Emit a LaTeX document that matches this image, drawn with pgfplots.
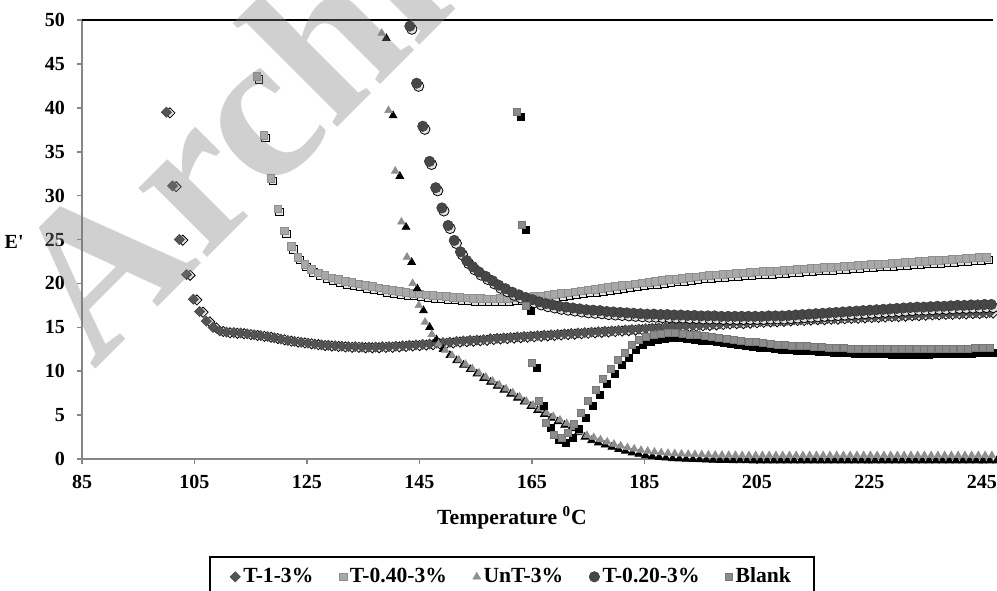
\documentclass[border=0pt]{standalone}
\usepackage{fontspec}
\setmainfont{Liberation Serif}
\usepackage{pgfplots}
\pgfplotsset{compat=1.18}
\usepackage{pgfplotstable}
\definecolor{axgray}{HTML}{868686}
\definecolor{cTone}{HTML}{555555}
\definecolor{cTfour}{HTML}{A8A8A8}
\definecolor{cUnT}{HTML}{8E8E8E}
\definecolor{cTtwo}{HTML}{474747}
\definecolor{cBlank}{HTML}{8C8C8C}
\definecolor{shd}{HTML}{E2E2E2}

\pgfplotstableread{
x y
100.0 39.5
101.1 31.1
102.3 25.0
103.6 21.0
104.8 18.2
105.9 16.8
107.1 15.7
108.3 15.0
109.5 14.6
110.7 14.45
112.0 14.4
113.2 14.35
114.4 14.25
115.6 14.15
116.8 14.05
118.0 13.95
119.2 13.8
120.4 13.65
121.6 13.5
122.8 13.4
124.0 13.3
125.2 13.2
126.4 13.1
127.6 13.0
128.8 12.95
130.0 12.9
131.2 12.85
132.4 12.8
133.6 12.8
134.8 12.75
136.0 12.75
137.2 12.75
138.4 12.8
139.6 12.8
140.8 12.85
142.0 12.9
143.2 12.95
144.4 13.0
145.6 13.05
146.8 13.1
148.0 13.2
149.2 13.25
150.4 13.3
151.6 13.4
152.8 13.45
154.0 13.5
155.2 13.55
156.4 13.6
157.6 13.7
158.8 13.75
160.0 13.8
161.2 13.85
162.4 13.9
163.6 13.95
164.8 14.0
166.0 14.05
167.2 14.1
168.4 14.15
169.6 14.2
170.8 14.25
172.0 14.3
173.2 14.35
174.4 14.4
175.6 14.45
176.8 14.5
178.0 14.55
179.2 14.6
180.4 14.65
181.6 14.7
182.8 14.75
184.0 14.8
185.2 14.85
186.4 14.9
187.6 14.95
188.8 15.0
190.0 15.05
191.2 15.1
192.4 15.15
193.6 15.2
194.8 15.25
196.0 15.3
197.2 15.35
198.4 15.4
199.6 15.45
200.8 15.5
202.0 15.5
203.2 15.55
204.4 15.6
205.6 15.65
206.8 15.7
208.0 15.7
209.2 15.75
210.4 15.8
211.6 15.85
212.8 15.85
214.0 15.9
215.2 15.95
216.4 15.95
217.6 16.0
218.8 16.0
220.0 16.05
221.2 16.1
222.4 16.1
223.6 16.15
224.8 16.2
226.0 16.2
227.2 16.25
228.4 16.3
229.6 16.3
230.8 16.35
232.0 16.4
233.2 16.4
234.4 16.45
235.6 16.5
236.8 16.5
238.0 16.55
239.2 16.55
240.4 16.6
241.6 16.6
242.8 16.65
244.0 16.65
245.2 16.7
246.4 16.7
}\Tone

\pgfplotstableread{
x y
116.1 43.6
117.3 36.9
118.6 32.0
119.8 28.5
121.0 26.0
122.2 24.2
123.4 23.0
124.6 22.2
125.8 21.6
127.0 21.2
128.2 20.9
129.4 20.65
130.6 20.45
131.8 20.25
133.0 20.1
134.2 19.95
135.4 19.8
136.6 19.65
137.8 19.5
139.0 19.35
140.2 19.2
141.4 19.1
142.6 19.0
143.8 18.9
145.0 18.8
146.2 18.7
147.4 18.65
148.6 18.6
149.8 18.5
151.0 18.45
152.2 18.4
153.4 18.35
154.6 18.3
155.8 18.3
157.0 18.25
158.2 18.25
159.4 18.3
160.6 18.3
161.8 18.35
163.0 18.4
164.2 18.45
165.4 18.5
166.6 18.6
167.8 18.65
169.0 18.75
170.2 18.85
171.4 18.95
172.6 19.05
173.8 19.15
175.0 19.25
176.2 19.35
177.4 19.45
178.6 19.55
179.8 19.65
181.0 19.75
182.2 19.85
183.4 19.95
184.6 20.05
185.8 20.15
187.0 20.25
188.2 20.35
189.4 20.45
190.6 20.5
191.8 20.6
193.0 20.7
194.2 20.75
195.4 20.85
196.6 20.9
197.8 21.0
199.0 21.05
200.2 21.1
201.4 21.15
202.6 21.2
203.8 21.25
205.0 21.3
206.2 21.35
207.4 21.4
208.6 21.45
209.8 21.5
211.0 21.55
212.2 21.6
213.4 21.65
214.6 21.7
215.8 21.75
217.0 21.8
218.2 21.85
219.4 21.9
220.6 21.95
221.8 22.0
223.0 22.05
224.2 22.1
225.4 22.15
226.6 22.2
227.8 22.25
229.0 22.3
230.2 22.35
231.4 22.4
232.6 22.45
233.8 22.5
235.0 22.55
236.2 22.6
237.4 22.65
238.6 22.7
239.8 22.75
241.0 22.8
242.2 22.85
243.4 22.9
244.6 22.95
245.8 23.0
}\Tfour

\pgfplotstableread{
x y
138.3 48.5
139.5 39.7
140.7 32.8
141.8 27.0
142.8 23.0
143.8 20.0
144.9 17.5
146.0 15.6
147.2 14.2
148.4 13.1
149.6 12.4
150.8 11.8
152.0 11.3
153.2 10.8
154.4 10.3
155.6 9.8
156.8 9.35
158.0 8.9
159.2 8.45
160.4 8.0
161.6 7.55
162.8 7.1
164.0 6.6
165.2 6.15
166.4 5.7
167.6 5.25
168.8 4.85
170.0 4.45
171.2 4.05
172.4 3.6
173.6 3.1
174.8 2.7
176.0 2.45
177.2 2.2
178.4 1.95
179.6 1.7
180.8 1.5
182.0 1.3
183.2 1.15
184.4 1.0
185.6 0.9
186.8 0.8
188.0 0.72
189.2 0.66
190.4 0.62
191.6 0.58
192.8 0.55
194.0 0.52
195.2 0.5
196.4 0.47
197.6 0.45
198.8 0.44
200.0 0.43
201.2 0.42
202.4 0.41
203.6 0.4
204.8 0.4
206.0 0.4
207.2 0.4
208.4 0.4
209.6 0.4
210.8 0.4
212.0 0.4
213.2 0.4
214.4 0.4
215.6 0.4
216.8 0.4
218.0 0.4
219.2 0.4
220.4 0.4
221.6 0.4
222.8 0.4
224.0 0.4
225.2 0.4
226.4 0.4
227.6 0.4
228.8 0.4
230.0 0.4
231.2 0.4
232.4 0.4
233.6 0.4
234.8 0.4
236.0 0.4
237.2 0.4
238.4 0.4
239.6 0.4
240.8 0.4
242.0 0.4
243.2 0.4
244.4 0.4
245.6 0.4
246.8 0.4
}\UnT

\pgfplotstableread{
x y
143.3 49.3
144.5 42.8
145.6 37.9
146.8 33.9
147.9 30.9
149.0 28.6
150.1 26.6
151.2 24.9
152.3 23.6
153.4 22.6
154.5 21.9
155.6 21.3
156.8 20.8
158.0 20.3
159.1 19.8
160.3 19.4
161.5 19.0
162.7 18.7
163.9 18.4
165.1 18.15
166.3 17.9
167.5 17.7
168.7 17.55
169.9 17.4
171.1 17.3
172.3 17.2
173.5 17.1
174.7 17.0
175.9 16.95
177.1 16.9
178.3 16.8
179.5 16.75
180.7 16.7
181.9 16.65
183.1 16.6
184.3 16.55
185.5 16.5
186.7 16.5
187.9 16.45
189.1 16.45
190.3 16.4
191.5 16.4
192.7 16.35
193.9 16.35
195.1 16.3
196.3 16.3
197.5 16.3
198.7 16.25
199.9 16.25
201.1 16.25
202.3 16.25
203.5 16.25
204.7 16.25
205.9 16.25
207.1 16.3
208.3 16.3
209.5 16.3
210.7 16.35
211.9 16.4
213.1 16.45
214.3 16.5
215.5 16.55
216.7 16.6
217.9 16.65
219.1 16.7
220.3 16.75
221.5 16.8
222.7 16.85
223.9 16.9
225.1 16.95
226.3 17.0
227.5 17.05
228.7 17.1
229.9 17.15
231.1 17.2
232.3 17.25
233.5 17.3
234.7 17.3
235.9 17.35
237.1 17.4
238.3 17.4
239.5 17.45
240.7 17.5
241.9 17.5
243.1 17.55
244.3 17.55
245.5 17.6
246.7 17.6
}\Ttwo

\pgfplotstableread{
x y
162.3 39.5
163.2 26.7
164.0 17.5
165.0 11.0
166.3 6.6
167.5 4.1
168.9 2.8
170.3 2.4
171.4 3.0
172.5 4.0
173.7 5.3
175.0 6.6
176.3 7.9
177.6 9.1
179.0 10.3
180.2 11.3
181.5 12.1
182.7 13.0
184.0 13.6
185.3 13.95
186.6 14.15
187.9 14.3
189.2 14.35
190.5 14.35
191.8 14.3
193.1 14.2
194.4 14.1
195.7 14.0
197.0 13.9
198.3 13.8
199.6 13.7
200.9 13.6
202.2 13.5
203.5 13.4
204.8 13.3
206.1 13.2
207.4 13.1
208.7 13.05
210.0 13.0
211.3 12.95
212.6 12.9
213.9 12.85
215.2 12.8
216.5 12.75
217.8 12.7
219.1 12.7
220.4 12.65
221.7 12.6
223.0 12.6
224.3 12.55
225.6 12.55
226.9 12.55
228.2 12.5
229.5 12.5
230.8 12.5
232.1 12.5
233.4 12.5
234.7 12.5
236.0 12.55
237.3 12.55
238.6 12.55
239.9 12.6
241.2 12.6
242.5 12.6
243.8 12.65
245.1 12.65
246.4 12.7
}\Blank

\begin{document}
\begin{tikzpicture}
\begin{axis}[
  scale only axis,
  width=455.5pt, height=219.5pt,
  xmin=85, xmax=247, ymin=0, ymax=50,
  xtick={85,105,...,245}, ytick={0,5,...,50},
  axis x line*=bottom, axis y line*=left,
  axis line style={draw=axgray, line width=1pt},
  tick style={draw=axgray, line width=0.8pt},
  tick align=outside, major tick length=2.5pt,
  tick label style={font=\bfseries},
  /pgf/number format/assume math mode=true,
  yticklabel style={xshift=-2.5pt},
  xticklabel style={yshift=-2pt},
  extra y ticks={50}, extra y tick labels={},
  extra y tick style={grid=major, major grid style={draw=black, line width=0.8pt}, major tick length=0pt},
  xlabel={Temperature \textsuperscript{0}C},
  every axis x label/.style={at={(axis description cs:0.472,-0.134)}, anchor=center, font=\fontsize{10.8}{13}\selectfont\bfseries},
  ylabel={E\textquotesingle},
  every axis y label/.style={at={(axis description cs:0,0.494)}, anchor=east, inner sep=0pt, xshift=-29pt, font=\bfseries},
  legend columns=5,
  legend style={at={(axis description cs:0.472,-0.221)}, anchor=north, draw=black, line width=0.8pt,
    font=\fontsize{10.8}{13}\selectfont\bfseries, inner xsep=10pt, inner ysep=4pt,
    nodes={inner sep=1.5pt},
    /tikz/every even column/.append style={column sep=11.5pt}},
  legend image code/.code={\draw[#1] plot coordinates {(0pt,0pt)};},
  legend entries={T-1-3\%, T-0.40-3\%, UnT-3\%, T-0.20-3\%, Blank},
]
% T-1-3%
\addplot[forget plot, only marks, mark=square*, mark size=1.8pt,
  mark options={rotate=45, fill=shd, draw=none, xshift=1pt, yshift=-1.5pt}] table {\Tone};
\addplot[only marks, mark=square*, mark size=1.8pt,
  mark options={rotate=45, fill=cTone, draw=cTone!85!black, line width=0.3pt}] table {\Tone};
% T-0.40-3%
\addplot[forget plot, only marks, mark=square*, mark size=1.9pt,
  mark options={fill=shd, draw=none, xshift=1pt, yshift=-1.5pt}] table {\Tfour};
\addplot[only marks, mark=square*, mark size=1.9pt,
  mark options={fill=cTfour, draw=cTfour!85!black, line width=0.3pt}] table {\Tfour};
% UnT-3%
\addplot[forget plot, only marks, mark=triangle*, mark size=2.2pt,
  mark options={fill=black, draw=black, xshift=2.3pt, yshift=-2.6pt}] table {\UnT};
\addplot[only marks, mark=triangle*, mark size=2.2pt,
  mark options={fill=cUnT, draw=cUnT, line width=0.3pt}] table {\UnT};
% T-0.20-3%
\addplot[forget plot, only marks, mark=*, mark size=2.6pt,
  mark options={fill=shd, draw=none, xshift=1pt, yshift=-1.5pt}] table {\Ttwo};
\addplot[only marks, mark=*, mark size=2.6pt,
  mark options={fill=cTtwo, draw=cTtwo!85!black, line width=0.3pt}] table {\Ttwo};
% Blank
\addplot[forget plot, only marks, mark=square*, mark size=1.75pt,
  mark options={fill=black, draw=black, xshift=2.3pt, yshift=-2.6pt}] table {\Blank};
\addplot[only marks, mark=square*, mark size=1.75pt,
  mark options={fill=cBlank, draw=cBlank!85!black, line width=0.3pt}] table {\Blank};
\end{axis}
\node[rotate=45, anchor=base west, text=black!50, opacity=0.37,
  font=\fontsize{106}{106}\selectfont\bfseries]
  at ([xshift=4pt,yshift=42pt]current axis.south west) {Archive of SID};
\pgfresetboundingbox
\path ([xshift=-41pt,yshift=-65.5pt]current axis.south west) rectangle ([xshift=2pt,yshift=10pt]current axis.north east);
\end{tikzpicture}
\end{document}
